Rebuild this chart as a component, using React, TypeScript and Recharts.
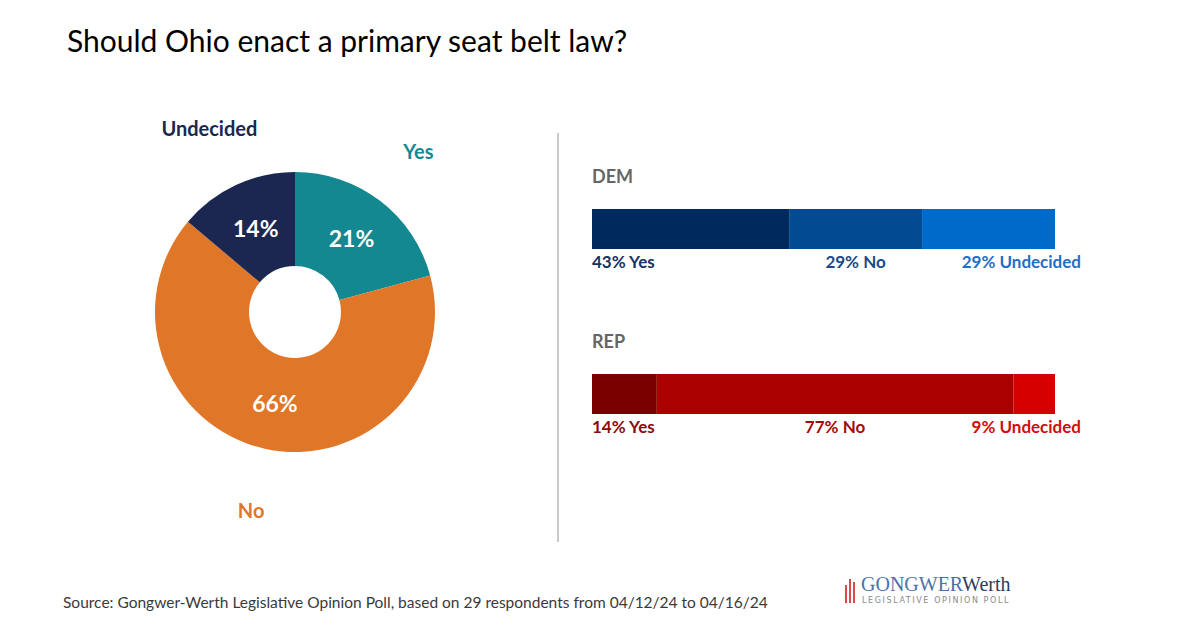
import { PieChart, Pie, Cell, BarChart, Bar, XAxis, YAxis, LabelList } from "recharts";

// ─── Data ───
const categories = ["Yes", "No", "Undecided"];
const overallPct = [21, 66, 14];
const demPct = [43, 29, 29];
const repPct = [14, 77, 9];

const pieColors = ["#138891", "#e07628", "#1b2750"];
const pieLabelColors = ["#148a93", "#e07628", "#1b2750"];
const demColors = ["#002a5e", "#004b91", "#006acb"];
const demTextColors = ["#17335f", "#1b4a88", "#1f6fc5"];
const repColors = ["#7a0000", "#ab0000", "#d60000"];
const repTextColors = ["#8a0c0c", "#a30a0a", "#d30c0c"];

const FONT = "Lato, 'Open Sans', sans-serif";
const RAD = Math.PI / 180;

const pieData = categories.map((name, i) => ({ name, value: overallPct[i] }));

function PieLabel(props: any) {
  const { cx, cy, midAngle, outerRadius, innerRadius, index, value, name } = props;
  const rIn = (innerRadius + outerRadius) / 2;
  const rOut = outerRadius + 63;
  const cos = Math.cos(-midAngle * RAD);
  const sin = Math.sin(-midAngle * RAD);
  return (
    <g>
      <text
        x={cx + rIn * cos}
        y={cy + rIn * sin}
        textAnchor="middle"
        dominantBaseline="central"
        fill="#ffffff"
        fontFamily={FONT}
        fontWeight={700}
        fontSize={23}
      >
        {value}%
      </text>
      <text
        x={cx + rOut * cos}
        y={cy + rOut * sin}
        textAnchor="middle"
        dominantBaseline="central"
        fill={pieLabelColors[index]}
        fontFamily={FONT}
        fontWeight={700}
        fontSize={20}
      >
        {name}
      </text>
    </g>
  );
}

// ─── Stacked party bar ───
function PartyBar({ values, colors, textColors }: { values: number[]; colors: string[]; textColors: string[] }) {
  const row: Record<string, any> = { party: "p" };
  categories.forEach((c, i) => (row[c] = values[i]));

  const makeLabel = (i: number) => (props: any) => {
    const { x, y, width, height } = props;
    let tx = x;
    let anchor: "start" | "middle" | "end" = "start";
    if (i === 1) {
      tx = x + width / 2;
      anchor = "middle";
    } else if (i === 2) {
      tx = x + width + 26;
      anchor = "end";
    }
    return (
      <text
        x={tx}
        y={y + height + 19}
        textAnchor={anchor}
        fill={textColors[i]}
        fontFamily={FONT}
        fontWeight={700}
        fontSize={17}
      >
        {values[i]}% {categories[i]}
      </text>
    );
  };

  return (
    <BarChart
      width={503}
      height={70}
      data={[row]}
      layout="vertical"
      barCategoryGap={0}
      margin={{ top: 0, right: 40, bottom: 30, left: 0 }}
    >
      <XAxis type="number" hide domain={[0, "dataMax"]} />
      <YAxis type="category" dataKey="party" hide />
      {categories.map((c, i) => (
        <Bar key={c} dataKey={c} stackId="a" fill={colors[i]} isAnimationActive={false}>
          <LabelList dataKey={c} content={makeLabel(i)} />
        </Bar>
      ))}
    </BarChart>
  );
}

export default function App() {
  return (
    <div
      style={{
        position: "absolute",
        left: 0,
        top: 0,
        width: 1199,
        height: 628,
        background: "#ffffff",
        fontFamily: FONT,
        overflow: "hidden",
      }}
    >
      <div style={{ position: "absolute", left: 67, top: 22, fontSize: 30, color: "#000", whiteSpace: "nowrap" }}>
        Should Ohio enact a primary seat belt law?
      </div>

      <div style={{ position: "absolute", left: 25, top: 82 }}>
        <PieChart width={540} height={460}>
          <Pie
            data={pieData}
            dataKey="value"
            nameKey="name"
            cx={265}
            cy={225}
            innerRadius={46}
            outerRadius={140}
            startAngle={90}
            endAngle={-270}
            stroke="none"
            labelLine={false}
            label={PieLabel}
            isAnimationActive={false}
          >
            {pieData.map((d, i) => (
              <Cell key={d.name} fill={pieColors[i]} />
            ))}
          </Pie>
        </PieChart>
      </div>

      <div style={{ position: "absolute", left: 557, top: 133, width: 2, height: 409, background: "#c9c9c9" }} />

      <div style={{ position: "absolute", left: 592, top: 165, fontSize: 18, fontWeight: 700, color: "#666666" }}>DEM</div>
      <div style={{ position: "absolute", left: 592, top: 209 }}>
        <PartyBar values={demPct} colors={demColors} textColors={demTextColors} />
      </div>

      <div style={{ position: "absolute", left: 592, top: 330, fontSize: 18, fontWeight: 700, color: "#666666" }}>REP</div>
      <div style={{ position: "absolute", left: 592, top: 374 }}>
        <PartyBar values={repPct} colors={repColors} textColors={repTextColors} />
      </div>

      <div style={{ position: "absolute", left: 63, top: 593, fontSize: 15.5, color: "#3a3a3a", whiteSpace: "nowrap" }}>
        Source: Gongwer-Werth Legislative Opinion Poll, based on 29 respondents from 04/12/24 to 04/16/24
      </div>

      <svg style={{ position: "absolute", left: 840, top: 573 }} width={180} height={36}>
        <rect x={5} y={12} width={2} height={18} fill="#e0474c" />
        <rect x={9} y={6} width={2} height={24} fill="#e0474c" />
        <rect x={13} y={9} width={2} height={21} fill="#e0474c" />
        <text x={21} y={18} fontFamily="'Liberation Serif', serif" fontSize={20} fill="#4d72a8">
          GONGWER<tspan fill="#2e3b5e">Werth</tspan>
        </text>
        <text x={22} y={30} fontFamily="'DejaVu Sans', sans-serif" fontSize={8} letterSpacing={1.6} fill="#8a8a8a">
          LEGISLATIVE OPINION POLL
        </text>
      </svg>
    </div>
  );
}
